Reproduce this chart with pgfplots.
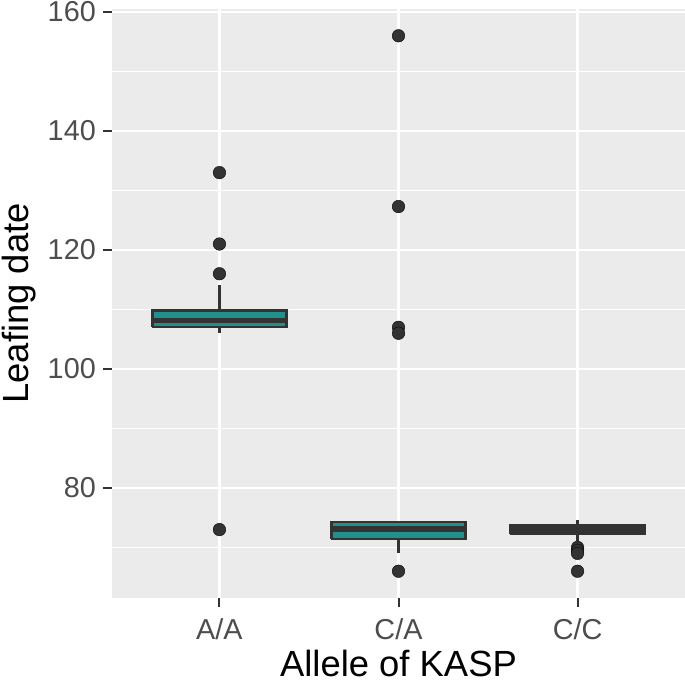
\documentclass[border=0pt]{standalone}
\usepackage{fontspec}
\setmainfont{Liberation Sans}
\usepackage{pgfplots}
\pgfplotsset{compat=1.18}
\definecolor{panelbg}{HTML}{EBEBEB}
\definecolor{boxfill}{HTML}{21908C}
\definecolor{dark}{HTML}{333333}
\definecolor{ticklab}{HTML}{4D4D4D}
\begin{document}
\begin{tikzpicture}
\useasboundingbox (-112bp,-88bp) rectangle (573bp,598bp);
\begin{axis}[
  at={(0,0)}, anchor=south west,
  scale only axis, width=573bp, height=589bp,
  xmin=0.4, xmax=3.6, ymin=61.5, ymax=160.5,
  xtick={1,2,3}, xticklabels={A/A,C/A,C/C},
  ytick={80,100,120,140,160}, minor ytick={70,90,110,130,150},
  grid=both,
  major grid style={white, line width=2.2bp},
  minor grid style={white, line width=1.1bp},
  axis background/.style={fill=panelbg},
  axis line style={draw=none},
  xtick pos=bottom, ytick pos=left,
  tick align=outside, major tick length=9bp,
  major tick style={dark, line width=2bp},
  minor tick style={draw=none},
  /pgf/number format/assume math mode=true,
  tick label style={font=\fontsize{28.8bp}{34bp}\selectfont, text=ticklab},
  yticklabel style={inner sep=0pt, xshift=-7bp},
  xticklabel style={inner sep=0pt, yshift=-11bp},
  xlabel={Allele of KASP},
  ylabel={Leafing date},
  xlabel style={font=\fontsize{36.4bp}{42bp}\selectfont, text=black,
    at={(axis description cs:0.5,-0.1104)}, anchor=center, inner sep=0pt},
  ylabel style={font=\fontsize{36.4bp}{42bp}\selectfont, text=black,
    at={(axis description cs:-0.1623,0.5)}, rotate=0, anchor=center, inner sep=0pt},
]
% outliers
\addplot[only marks, mark=*, mark size=6.3bp, mark options={fill=dark, draw=none}]
  coordinates {(1,133) (1,121) (1,116) (1,73)
               (2,156) (2,127.3) (2,107) (2,106) (2,66)
               (3,70) (3,69.5) (3,69) (3,66)};
% whiskers
\addplot[dark, line width=3bp] coordinates {(1,109.8) (1,114.1)};
\addplot[dark, line width=3bp] coordinates {(1,107.05) (1,106.1)};
\addplot[dark, line width=3bp] coordinates {(2,71.4) (2,69.1)};
\addplot[dark, line width=3bp] coordinates {(3,73.7) (3,74.6)};
\addplot[dark, line width=3bp] coordinates {(3,72.3) (3,71.1)};
% boxes
\addplot[draw=dark, fill=boxfill, line width=2.5bp, line join=miter]
  coordinates {(0.625,107.05) (1.375,107.05) (1.375,109.8) (0.625,109.8) (0.625,107.05)};
\addplot[draw=dark, fill=boxfill, line width=2.5bp, line join=miter]
  coordinates {(1.625,71.4) (2.375,71.4) (2.375,74.3) (1.625,74.3) (1.625,71.4)};
\addplot[draw=dark, fill=boxfill, line width=2.5bp, line join=miter]
  coordinates {(2.625,72.3) (3.375,72.3) (3.375,73.7) (2.625,73.7) (2.625,72.3)};
% medians
\addplot[dark, line width=5.8bp] coordinates {(0.625,108.15) (1.375,108.15)};
\addplot[dark, line width=5.8bp] coordinates {(1.625,73.1) (2.375,73.1)};
\addplot[dark, line width=5.8bp] coordinates {(2.625,73.0) (3.375,73.0)};
\end{axis}
\end{tikzpicture}
\end{document}
